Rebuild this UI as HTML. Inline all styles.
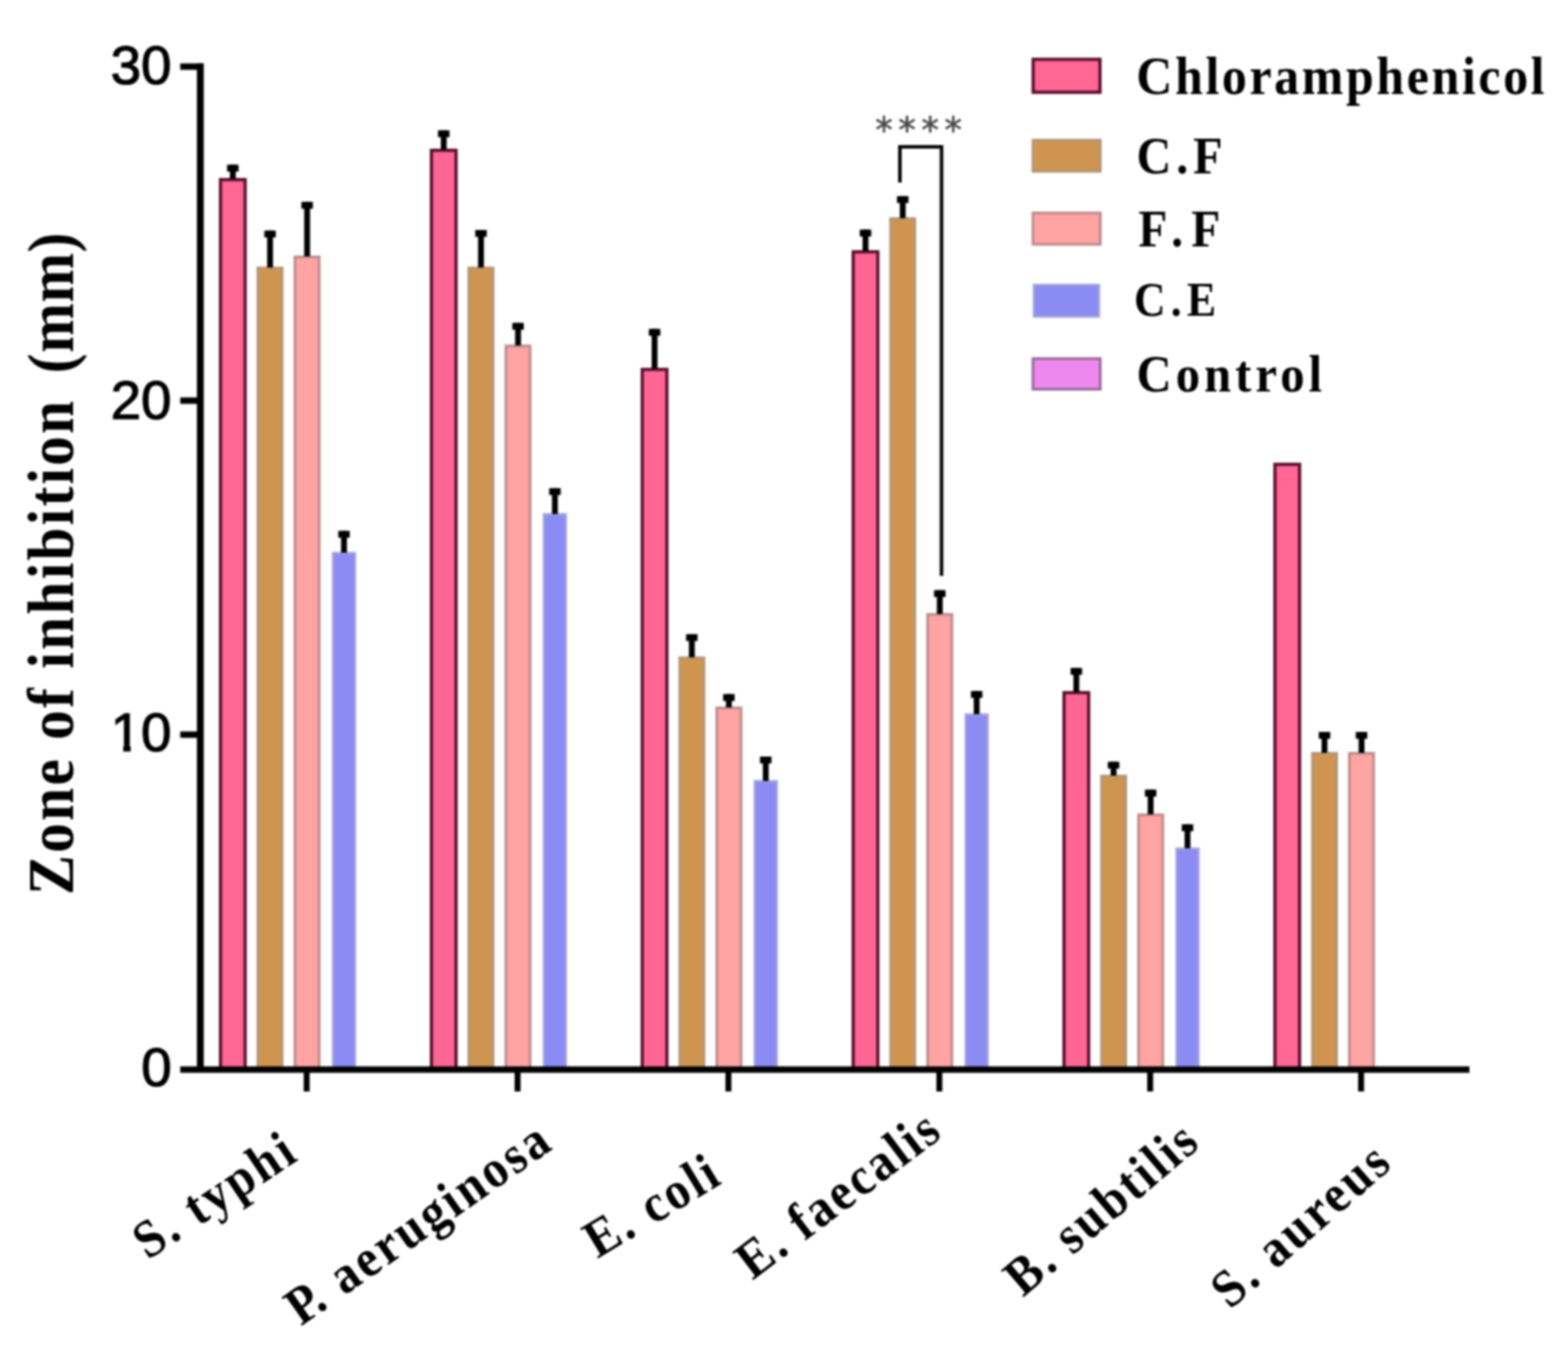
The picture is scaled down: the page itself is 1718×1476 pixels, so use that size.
<!DOCTYPE html>
<html><head><meta charset="utf-8"><title>Zone of inhibition</title>
<style>html,body{margin:0;padding:0;background:#fff;overflow:hidden;}#chart{width:1718px;height:1476px;filter:blur(0.8px);}svg{display:block;}</style></head>
<body>
<div id="chart"><svg width="1718" height="1476" viewBox="0 0 1718 1476">
<rect width="1718" height="1476" fill="#fff"/>
<rect x="241.6" y="196.8" width="27.0" height="974.8" fill="#FF6694" stroke="#580E2C" stroke-width="3.5"/>
<rect x="282.6" y="293.7" width="26.5" height="877.8" fill="#CF9550" stroke="#B49676" stroke-width="3"/>
<rect x="323.2" y="281.5" width="26.5" height="890.0" fill="#FFA3A3" stroke="#BE8C8C" stroke-width="3"/>
<rect x="364.9" y="606.0" width="24.0" height="565.5" fill="#8B8BF4" stroke="#A2A2DC" stroke-width="2.5"/>
<rect x="472.7" y="164.7" width="27.0" height="1006.9" fill="#FF6694" stroke="#580E2C" stroke-width="3.5"/>
<rect x="513.7" y="293.7" width="26.5" height="877.8" fill="#CF9550" stroke="#B49676" stroke-width="3"/>
<rect x="554.3" y="379.1" width="26.5" height="792.4" fill="#FFA3A3" stroke="#BE8C8C" stroke-width="3"/>
<rect x="596.0" y="563.5" width="24.0" height="608.0" fill="#8B8BF4" stroke="#A2A2DC" stroke-width="2.5"/>
<rect x="703.7" y="404.8" width="27.0" height="766.8" fill="#FF6694" stroke="#580E2C" stroke-width="3.5"/>
<rect x="744.8" y="720.8" width="26.5" height="450.7" fill="#CF9550" stroke="#B49676" stroke-width="3"/>
<rect x="785.4" y="775.7" width="26.5" height="395.8" fill="#FFA3A3" stroke="#BE8C8C" stroke-width="3"/>
<rect x="827.0" y="856.0" width="24.0" height="315.5" fill="#8B8BF4" stroke="#A2A2DC" stroke-width="2.5"/>
<rect x="934.8" y="275.9" width="27.0" height="895.5" fill="#FF6694" stroke="#580E2C" stroke-width="3.5"/>
<rect x="975.8" y="239.6" width="26.5" height="931.9" fill="#CF9550" stroke="#B49676" stroke-width="3"/>
<rect x="1016.4" y="673.3" width="26.5" height="498.2" fill="#FFA3A3" stroke="#BE8C8C" stroke-width="3"/>
<rect x="1058.1" y="782.9" width="24.0" height="388.6" fill="#8B8BF4" stroke="#A2A2DC" stroke-width="2.5"/>
<rect x="1165.8" y="759.0" width="27.0" height="412.5" fill="#FF6694" stroke="#580E2C" stroke-width="3.5"/>
<rect x="1206.9" y="850.4" width="26.5" height="321.1" fill="#CF9550" stroke="#B49676" stroke-width="3"/>
<rect x="1247.5" y="892.9" width="26.5" height="278.6" fill="#FFA3A3" stroke="#BE8C8C" stroke-width="3"/>
<rect x="1289.1" y="929.9" width="24.0" height="241.6" fill="#8B8BF4" stroke="#A2A2DC" stroke-width="2.5"/>
<rect x="1396.9" y="508.8" width="27.0" height="662.8" fill="#FF6694" stroke="#580E2C" stroke-width="3.5"/>
<rect x="1438.0" y="825.5" width="26.5" height="346.0" fill="#CF9550" stroke="#B49676" stroke-width="3"/>
<rect x="1478.5" y="825.5" width="26.5" height="346.0" fill="#FFA3A3" stroke="#BE8C8C" stroke-width="3"/>
<rect x="251.9" y="180.5" width="6.4" height="15.5" fill="#000"/>
<rect x="248.8" y="180.5" width="12.6" height="7.5" fill="#000"/>
<rect x="292.7" y="252.7" width="6.4" height="40.5" fill="#000"/>
<rect x="289.6" y="252.7" width="12.6" height="7.5" fill="#000"/>
<rect x="333.3" y="221.2" width="6.4" height="59.8" fill="#000"/>
<rect x="330.2" y="221.2" width="12.6" height="7.5" fill="#000"/>
<rect x="373.7" y="581.7" width="6.4" height="24.0" fill="#000"/>
<rect x="370.6" y="581.7" width="12.6" height="7.5" fill="#000"/>
<rect x="483.0" y="142.8" width="6.4" height="21.1" fill="#000"/>
<rect x="479.9" y="142.8" width="12.6" height="7.5" fill="#000"/>
<rect x="523.8" y="252.0" width="6.4" height="41.2" fill="#000"/>
<rect x="520.7" y="252.0" width="12.6" height="7.5" fill="#000"/>
<rect x="564.4" y="353.8" width="6.4" height="24.8" fill="#000"/>
<rect x="561.3" y="353.8" width="12.6" height="7.5" fill="#000"/>
<rect x="604.8" y="534.9" width="6.4" height="28.4" fill="#000"/>
<rect x="601.7" y="534.9" width="12.6" height="7.5" fill="#000"/>
<rect x="714.0" y="360.4" width="6.4" height="43.6" fill="#000"/>
<rect x="710.9" y="360.4" width="12.6" height="7.5" fill="#000"/>
<rect x="754.8" y="694.9" width="6.4" height="25.4" fill="#000"/>
<rect x="751.7" y="694.9" width="12.6" height="7.5" fill="#000"/>
<rect x="795.4" y="760.6" width="6.4" height="14.6" fill="#000"/>
<rect x="792.3" y="760.6" width="12.6" height="7.5" fill="#000"/>
<rect x="835.8" y="829.0" width="6.4" height="26.8" fill="#000"/>
<rect x="832.7" y="829.0" width="12.6" height="7.5" fill="#000"/>
<rect x="945.1" y="251.6" width="6.4" height="23.6" fill="#000"/>
<rect x="942.0" y="251.6" width="12.6" height="7.5" fill="#000"/>
<rect x="985.9" y="214.9" width="6.4" height="24.2" fill="#000"/>
<rect x="982.8" y="214.9" width="12.6" height="7.5" fill="#000"/>
<rect x="1026.5" y="646.7" width="6.4" height="26.1" fill="#000"/>
<rect x="1023.4" y="646.7" width="12.6" height="7.5" fill="#000"/>
<rect x="1066.9" y="757.2" width="6.4" height="25.4" fill="#000"/>
<rect x="1063.8" y="757.2" width="12.6" height="7.5" fill="#000"/>
<rect x="1176.1" y="731.9" width="6.4" height="26.4" fill="#000"/>
<rect x="1173.0" y="731.9" width="12.6" height="7.5" fill="#000"/>
<rect x="1216.9" y="834.7" width="6.4" height="15.2" fill="#000"/>
<rect x="1213.8" y="834.7" width="12.6" height="7.5" fill="#000"/>
<rect x="1257.5" y="865.3" width="6.4" height="27.1" fill="#000"/>
<rect x="1254.4" y="865.3" width="12.6" height="7.5" fill="#000"/>
<rect x="1297.9" y="903.3" width="6.4" height="26.3" fill="#000"/>
<rect x="1294.8" y="903.3" width="12.6" height="7.5" fill="#000"/>
<rect x="1448.0" y="802.0" width="6.4" height="23.0" fill="#000"/>
<rect x="1444.9" y="802.0" width="12.6" height="7.5" fill="#000"/>
<rect x="1488.6" y="802.0" width="6.4" height="23.0" fill="#000"/>
<rect x="1485.5" y="802.0" width="12.6" height="7.5" fill="#000"/>

<path d="M219.5 1172 V69.5" stroke="#000" stroke-width="7.5" fill="none"/><path d="M197.5 73 H222.5 M197.5 439 H222.5 M197.5 805 H222.5" stroke="#000" stroke-width="7" fill="none"/>
<path d="M197.5 1172 H1610" stroke="#000" stroke-width="6.8" fill="none"/>
<path d="M336.0 1172 V1196" stroke="#000" stroke-width="6.5"/><path d="M567.1 1172 V1196" stroke="#000" stroke-width="6.5"/><path d="M798.1 1172 V1196" stroke="#000" stroke-width="6.5"/><path d="M1029.2 1172 V1196" stroke="#000" stroke-width="6.5"/><path d="M1260.2 1172 V1196" stroke="#000" stroke-width="6.5"/><path d="M1491.3 1172 V1196" stroke="#000" stroke-width="6.5"/>

<g font-family="Liberation Sans, Arial, sans-serif" font-size="60" text-anchor="end" fill="#000" stroke="#000" stroke-width="1.2">
<text x="188" y="92.3">30</text>
<text x="188" y="458.8">20</text>
<text x="188" y="823.2">10</text>
<text x="188" y="1189.5">0</text>
</g>
<path d="M124 817.4 H135 V824.5 H124 Z M143.2 817.4 H154 V824.5 H143.2 Z" fill="#fff"/>

<text transform="translate(80.30,980.40) rotate(-90) scale(0.92,1)" font-family="Liberation Serif, 'Times New Roman', serif" font-weight="bold" font-size="70.9" letter-spacing="2.63" fill="#000">Zone of inhibition</text>
<text transform="translate(80.30,409.00) rotate(-90) scale(0.92,1)" font-family="Liberation Serif, 'Times New Roman', serif" font-weight="bold" font-size="70.9" letter-spacing="0.77" fill="#000">(mm)</text>

<text transform="translate(161.90,1381.10) rotate(-33.7) scale(0.92,1)" font-family="Liberation Serif, 'Times New Roman', serif" font-weight="bold" font-size="58.5" letter-spacing="3.48" fill="#000">S. typhi</text>
<text transform="translate(324.60,1457.30) rotate(-35.2) scale(0.92,1)" font-family="Liberation Serif, 'Times New Roman', serif" font-weight="bold" font-size="58.5" letter-spacing="3.53" fill="#000"><tspan dx="7">P</tspan><tspan dx="-12.4">. aeruginosa</tspan></text>
<text transform="translate(654.40,1379.60) rotate(-31.2) scale(0.92,1)" font-family="Liberation Serif, 'Times New Roman', serif" font-weight="bold" font-size="58.5" letter-spacing="3.12" fill="#000">E. coli</text>
<text transform="translate(824.60,1403.20) rotate(-37.1) scale(0.92,1)" font-family="Liberation Serif, 'Times New Roman', serif" font-weight="bold" font-size="58.5" letter-spacing="3.12" fill="#000">E. faecalis</text>
<text transform="translate(1120.70,1422.00) rotate(-40.4) scale(0.92,1)" font-family="Liberation Serif, 'Times New Roman', serif" font-weight="bold" font-size="58.5" letter-spacing="3.12" fill="#000">B. subtilis</text>
<text transform="translate(1347.70,1435.40) rotate(-41.3) scale(0.92,1)" font-family="Liberation Serif, 'Times New Roman', serif" font-weight="bold" font-size="58.5" letter-spacing="3.57" fill="#000">S. aureus</text>

<rect x="1132.0" y="65.0" width="73.2" height="36.1" fill="#FF6694" stroke="#580E2C" stroke-width="3.5"/>
<text transform="translate(1245.08,102.50) scale(0.92,1)" font-family="Liberation Serif, 'Times New Roman', serif" font-weight="bold" font-size="59.5" letter-spacing="3.09" fill="#000">Chloramphenicol</text>
<rect x="1131.8" y="153.6" width="73.7" height="34.1" fill="#CF9550" stroke="#B49676" stroke-width="3"/>
<text transform="translate(1245.18,190.00) scale(0.92,1)" font-family="Liberation Serif, 'Times New Roman', serif" font-weight="bold" font-size="57.5" letter-spacing="5.79" fill="#000">C.F</text>
<rect x="1131.8" y="233.4" width="73.7" height="34.3" fill="#FFA3A3" stroke="#BE8C8C" stroke-width="3"/>
<text transform="translate(1247.23,269.50) scale(0.92,1)" font-family="Liberation Serif, 'Times New Roman', serif" font-weight="bold" font-size="56.5" letter-spacing="9.81" fill="#000">F.F</text>
<rect x="1132.8" y="312.2" width="71.3" height="34.7" fill="#8B8BF4" stroke="#A2A2DC" stroke-width="2.5"/>
<text transform="translate(1242.45,345.70) scale(0.92,1)" font-family="Liberation Serif, 'Times New Roman', serif" font-weight="bold" font-size="52" letter-spacing="6.22" fill="#000">C.E</text>
<rect x="1131.8" y="393.0" width="73.7" height="33.5" fill="#EE88EE" stroke="#9A6A9A" stroke-width="3"/>
<text transform="translate(1245.16,429.00) scale(0.92,1)" font-family="Liberation Serif, 'Times New Roman', serif" font-weight="bold" font-size="58" letter-spacing="4.83" fill="#000">Control</text>


<path d="M986 200 V160.8 H1031.6 V631" stroke="#000" stroke-width="3.8" fill="none"/>
<text x="959" y="155.6" font-family="DejaVu Sans, sans-serif" font-size="38.5" letter-spacing="6" fill="#484848" stroke="#484848" stroke-width="0.5">****</text>

</svg></div>
</body></html>
